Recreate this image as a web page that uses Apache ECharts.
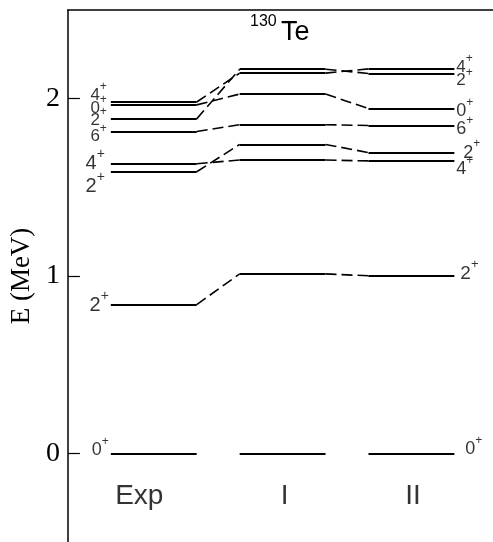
<!DOCTYPE html>
<html><head><meta charset="utf-8">
<script src="https://cdn.jsdelivr.net/npm/echarts@6/dist/echarts.min.js"></script>
<style>html,body{margin:0;padding:0;background:#fff}#c{width:493px;height:542px}</style>
</head><body><div id="c"></div>
<script>
// ---- data ----
const models = ['Exp', 'I', 'II'];
const spins = ['0', '2', '2', '4', '6', '2', '0', '4'];   // level spins (parity +)
const parity = '+';
const energyExp = [0, 0.839, 1.588, 1.633, 1.815, 1.886, 1.965, 1.981];
const energyI   = [0, 1.012, 1.742, 1.654, 1.853, 2.166, 2.026, 2.144];
const energyII  = [0, 1.001, 1.696, 1.649, 1.849, 2.142, 1.944, 2.168];
const yTicks = [0, 1, 2];
const titleNucleus = ['130', 'Te'];

// ---- layout / style ----
const colStart = [1, 4, 7], colEnd = [3, 6, 9];
const SANS = 'Liberation Sans', SERIF = 'Liberation Serif';
const leftNudge = [[0,-3],[0,1],[-4,15],[-4,0],[-2,5],[-2,1],[-2,3],[-2,-7]];
const leftSize  = [18, 20, 20, 20, 17, 17, 17, 17];
const rightNudge = [[9,-4],[4,-2],[7,0],[0,8],[0,3.5],[0,7],[0,2.5],[0,-2]];
const rightSize  = [18, 19, 18, 18, 18, 17, 18, 17];
const modelNudge = [[-14.5, 0], [2, 0], [1.5, 0]];

const energies = [energyExp, energyI, energyII];
const levelData = [];
energies.forEach((arr, m) => arr.forEach(e => levelData.push({coords: [[colStart[m], e], [colEnd[m], e]]})));
const linkData = [];
for (let m = 0; m < 2; m++) {
  energies[m].forEach((e, i) => {
    if (i === 0) return;
    linkData.push({coords: [[colEnd[m], e], [colStart[m + 1], energies[m + 1][i]]]});
  });
}

// each spin label = digit label + raised parity label
function spinItems(x, e, spin, size, pos, nudge) {
  const sup = Math.round(size * 0.68);
  const digitW = 0.556 * size, plusW = 0.584 * sup;
  const raise = -0.47 * size;
  let dOff, pOff;
  if (pos === 'left') {
    dOff = [nudge[0] - plusW, nudge[1]];
    pOff = [nudge[0], nudge[1] + raise];
  } else {
    dOff = [nudge[0], nudge[1]];
    pOff = [nudge[0] + digitW, nudge[1] + raise];
  }
  const base = {show: true, position: pos, distance: 2, color: '#000', fontFamily: SANS};
  return [
    {value: [x, e], label: Object.assign({}, base, {offset: dOff, fontSize: size, formatter: spin})},
    {value: [x, e], label: Object.assign({}, base, {offset: pOff, fontSize: sup, formatter: parity})}
  ];
}
let spinLabels = [];
energyExp.forEach((e, i) => { spinLabels = spinLabels.concat(spinItems(colStart[0], e, spins[i], leftSize[i], 'left', leftNudge[i])); });
energyII.forEach((e, i) => { spinLabels = spinLabels.concat(spinItems(colEnd[2], e, spins[i], rightSize[i], 'right', rightNudge[i])); });

const modelLabels = models.map((name, m) => ({
  value: [(colStart[m] + colEnd[m]) / 2, 0],
  label: {show: true, position: 'bottom', distance: 29, offset: modelNudge[m], formatter: name,
          fontFamily: SANS, fontSize: 28, color: '#000'}
}));

const chart = echarts.init(document.getElementById('c'), null, {renderer: 'canvas'});
chart.setOption({
  animation: false,
  backgroundColor: '#fff',
  grid: {left: 66, top: 10, width: 427, height: 535},
  xAxis: {
    type: 'value', min: 0, max: 9.9, position: 'top',
    axisLine: {show: true, onZero: false, lineStyle: {color: '#000', width: 1.5}},
    axisTick: {show: false}, axisLabel: {show: false}, splitLine: {show: false}
  },
  yAxis: {
    type: 'value', min: -0.5, max: 2.5, interval: 0.5,
    axisLine: {show: true, onZero: false, lineStyle: {color: '#000', width: 1.5}},
    axisTick: {show: true, inside: true, length: 12, customValues: yTicks, lineStyle: {color: '#000', width: 1.2}},
    axisLabel: {customValues: yTicks, fontFamily: SERIF, fontSize: 28, color: '#000', margin: 8},
    splitLine: {show: false},
    name: 'E (MeV)', nameLocation: 'middle', nameGap: 30, nameRotate: 90,
    nameTextStyle: {fontFamily: SERIF, fontSize: 27, color: '#000'}
  },
  graphic: [
    {type: 'text', x: 250, y: 22, style: {text: titleNucleus[0], font: '16px "Liberation Sans"', fill: '#000', verticalAlign: 'middle'}},
    {type: 'text', x: 281, y: 32.5, style: {text: titleNucleus[1], font: '27px "Liberation Sans"', fill: '#000', verticalAlign: 'middle'}}
  ],
  series: [
    {type: 'lines', coordinateSystem: 'cartesian2d', polyline: false, silent: true, data: levelData,
     lineStyle: {color: '#000', width: 2, opacity: 1}},
    {type: 'lines', coordinateSystem: 'cartesian2d', polyline: false, silent: true, data: linkData,
     lineStyle: {color: '#000', width: 1.6, opacity: 1, type: [11, 5]}},
    {type: 'scatter', symbolSize: 0, silent: true, data: spinLabels},
    {type: 'scatter', symbolSize: 0, silent: true, data: modelLabels}
  ]
});
</script>
</body></html>
